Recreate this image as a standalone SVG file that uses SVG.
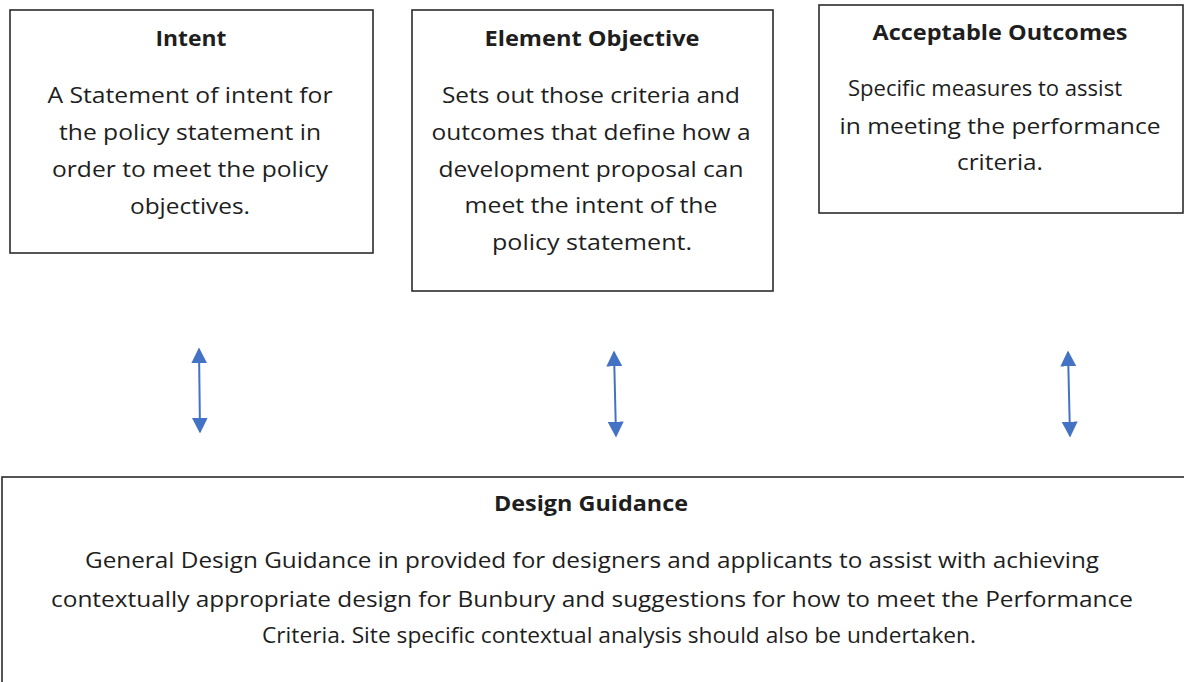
<svg xmlns="http://www.w3.org/2000/svg" width="1184" height="682" viewBox="0 0 1184 682">
<defs>
<style>
.box{fill:#fff;stroke:#2b2b2b;stroke-width:1.6}
.t{font-family:"Open Sans","Noto Sans","Liberation Sans",sans-serif;fill:#1e1e1e;text-anchor:middle}
.h{font-size:21px;font-weight:bold}
.b{font-size:22px}
.con{stroke:#4472C4;stroke-width:2;fill:none}
</style>
<marker id="ah" viewBox="0 0 10 10" refX="9" refY="5" markerUnits="userSpaceOnUse" markerWidth="16" markerHeight="16" orient="auto-start-reverse">
<path d="M0,0 L10,5 L0,10 z" fill="#4472C4"/>
</marker>
</defs>
<rect width="1184" height="682" fill="#fff"/>
<g id="intent">
<rect class="box" x="10" y="10" width="363" height="243"/>
<text class="t h" x="191" y="46" textLength="71" lengthAdjust="spacingAndGlyphs">Intent</text>
<text class="t b" x="190" y="103" textLength="285" lengthAdjust="spacingAndGlyphs">A Statement of intent for</text>
<text class="t b" x="190" y="140" textLength="262" lengthAdjust="spacingAndGlyphs">the policy statement in</text>
<text class="t b" x="190" y="177" textLength="276" lengthAdjust="spacingAndGlyphs">order to meet the policy</text>
<text class="t b" x="190" y="214" textLength="120" lengthAdjust="spacingAndGlyphs">objectives.</text>
</g>
<g id="element-objective">
<rect class="box" x="412" y="10" width="361" height="281"/>
<text class="t h" x="592" y="46" textLength="215" lengthAdjust="spacingAndGlyphs">Element Objective</text>
<text class="t b" x="591" y="103" textLength="298" lengthAdjust="spacingAndGlyphs">Sets out those criteria and</text>
<text class="t b" x="591" y="140" textLength="319" lengthAdjust="spacingAndGlyphs">outcomes that define how a</text>
<text class="t b" x="591" y="177" textLength="305" lengthAdjust="spacingAndGlyphs">development proposal can</text>
<text class="t b" x="591" y="213" textLength="253" lengthAdjust="spacingAndGlyphs">meet the intent of the</text>
<text class="t b" x="592" y="250" textLength="200" lengthAdjust="spacingAndGlyphs">policy statement.</text>
</g>
<g id="acceptable-outcomes">
<rect class="box" x="819" y="5" width="364" height="208"/>
<text class="t h" x="1000" y="40" textLength="255" lengthAdjust="spacingAndGlyphs">Acceptable Outcomes</text>
<text class="t b" x="985" y="96" textLength="274" lengthAdjust="spacingAndGlyphs">Specific measures to assist</text>
<text class="t b" x="1000" y="134" textLength="321" lengthAdjust="spacingAndGlyphs">in meeting the performance</text>
<text class="t b" x="1000" y="170" textLength="86" lengthAdjust="spacingAndGlyphs">criteria.</text>
</g>
<g id="design-guidance">
<rect class="box" x="2" y="477" width="1200" height="230"/>
<text class="t h" x="591" y="511" textLength="194" lengthAdjust="spacingAndGlyphs">Design Guidance</text>
<text class="t b" x="592" y="568" textLength="1014" lengthAdjust="spacingAndGlyphs">General Design Guidance in provided for designers and applicants to assist with achieving</text>
<text class="t b" x="592" y="607" textLength="1082" lengthAdjust="spacingAndGlyphs">contextually appropriate design for Bunbury and suggestions for how to meet the Performance</text>
<text class="t b" x="619" y="643" textLength="714" lengthAdjust="spacingAndGlyphs">Criteria. Site specific contextual analysis should also be undertaken.</text>
</g>
<g id="connectors">
<line class="con" x1="199" y1="349" x2="200" y2="432" marker-start="url(#ah)" marker-end="url(#ah)"/>
<line class="con" x1="614" y1="352" x2="616" y2="436" marker-start="url(#ah)" marker-end="url(#ah)"/>
<line class="con" x1="1068" y1="352" x2="1070" y2="436" marker-start="url(#ah)" marker-end="url(#ah)"/>
</g>
</svg>
